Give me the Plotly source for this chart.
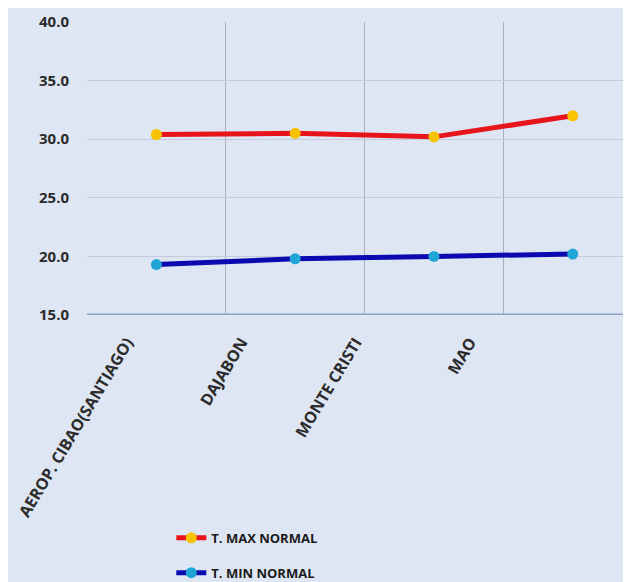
import plotly.graph_objects as go

categories = ["AEROP. CIBAO(SANTIAGO)", "DAJABON", "MONTE CRISTI", "MAO"]
t_max = [30.4, 30.5, 30.2, 32.0]
t_min = [19.3, 19.8, 20.0, 20.2]
y_ticks = [15, 20, 25, 30, 35, 40]
label_pos = [0, 1, 2, 3]

FONT = "Open Sans, sans-serif"
TXT = "#2b2b2b"

fig = go.Figure()
fig.add_trace(go.Scatter(
    x=categories, y=t_max, name="T. MAX NORMAL", mode="lines+markers",
    line=dict(color="#e8141b", width=5),
    marker=dict(color="#f7c200", size=11),
    legendgroup="max",
))
fig.add_trace(go.Scatter(
    x=categories, y=t_min, name="T. MIN NORMAL", mode="lines+markers",
    line=dict(color="#0a0ab0", width=5),
    marker=dict(color="#1fa6d6", size=11),
    legendgroup="min",
))
# invisible helper trace so the label axis is drawn
fig.add_trace(go.Scatter(
    x=label_pos, y=t_min, xaxis="x2", mode="markers",
    marker=dict(opacity=0), showlegend=False, hoverinfo="skip",
))

fig.update_layout(
    width=623, height=574,
    margin=dict(l=79, r=0, t=14, b=267, autoexpand=False),
    paper_bgcolor="#dfe6f3",
    plot_bgcolor="#dfe6f3",
    font=dict(family=FONT, size=13, color=TXT, weight="bold"),
    showlegend=True,
    legend=dict(
        x=0.155, y=0.103, xanchor="left", yanchor="top", yref="container",
        orientation="v", bgcolor="rgba(0,0,0,0)",
        font=dict(family=FONT, size=13, color="#1a1a1a", weight="bold"),
        itemwidth=30, tracegroupgap=15,
    ),
    xaxis=dict(
        type="category", range=[-0.5, 3.42], automargin=False,
        showgrid=True, gridcolor="#a9b1c0", gridwidth=1,
        tickson="boundaries", ticks="", showline=False, zeroline=False,
        showticklabels=False,
    ),
    xaxis2=dict(
        overlaying="x", anchor="y", side="bottom", automargin=False,
        range=[-0.35, 4.408], tickvals=label_pos, ticktext=categories,
        tickangle=-59, showgrid=False, zeroline=False, showline=False,
        ticks="", ticklabelstandoff=14,
        tickfont=dict(family=FONT, size=16, color=TXT, weight="bold"),
    ),
    yaxis=dict(
        range=[15, 40], tickvals=y_ticks, tickformat=".1f", automargin=False,
        showgrid=True, gridcolor="#c3ccda", gridwidth=1, zeroline=False,
        showline=False, ticks="", ticklabelstandoff=17,
        tickfont=dict(family=FONT, size=15, color=TXT, weight="bold"),
    ),
)
fig.add_shape(type="line", xref="paper", yref="y", x0=0, x1=1, y0=15, y1=15,
              line=dict(color="#8fa3c6", width=3))

fig.write_html("out.html")
